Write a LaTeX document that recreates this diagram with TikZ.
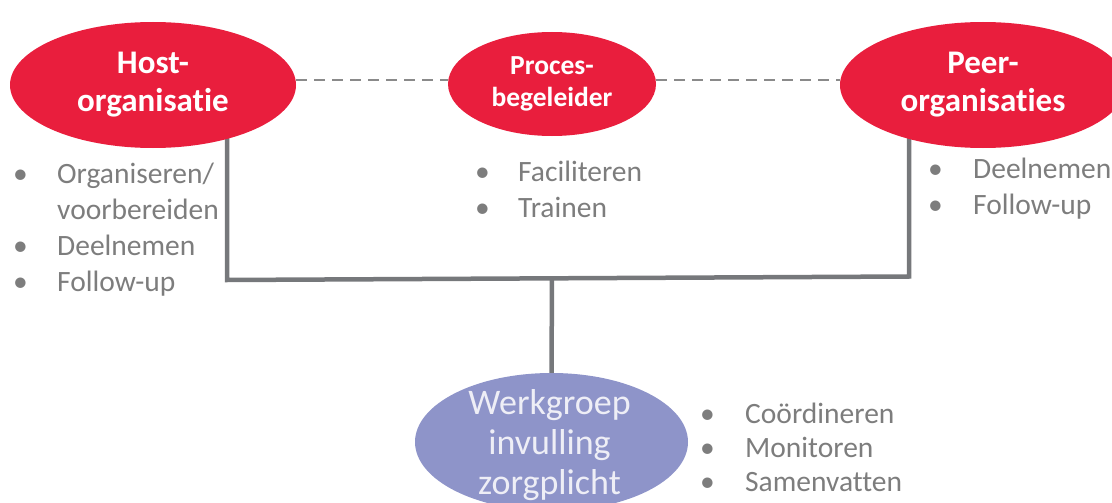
\documentclass[tikz,border=0pt]{standalone}
\usepackage{fontspec}
\setmainfont{Carlito}[Ligatures={NoCommon}]
\usetikzlibrary{shapes.geometric,backgrounds,calc}
\definecolor{redfill}{HTML}{E91E3D}
\definecolor{purplefill}{HTML}{8E94C9}
\definecolor{conngray}{HTML}{76787B}
\definecolor{dashgray}{HTML}{8A8A8A}
\definecolor{textgray}{HTML}{7D7D7D}
\definecolor{lighttext}{HTML}{EEEEF6}
\begin{document}
\begin{tikzpicture}[x=1pt,y=-1pt,
  role/.style={ellipse, fill=redfill, text=white, align=center, inner sep=0pt},
  bigrole/.style={role, minimum width=286pt, minimum height=126pt, font=\fontsize{33}{38}\selectfont\bfseries},
  smallrole/.style={role, minimum width=208pt, minimum height=104pt, font=\fontsize{27.5}{32}\selectfont\bfseries},
  werkbox/.style={ellipse, fill=purplefill, inner sep=0pt, minimum width=273pt, minimum height=138pt},
  werktext/.style={text=lighttext, align=center, inner sep=0pt, font=\fontsize{36}{40}\selectfont},
  blist/.style={anchor=base west, inner sep=0pt, text=textgray, font=\fontsize{29.5}{36}\selectfont},
  conn/.style={draw=conngray, line width=4.5pt},
  dashline/.style={draw=dashgray, line width=1.6pt, dash pattern=on 11pt off 7pt}
]
\useasboundingbox (0,0) rectangle (1112,503);

\node[bigrole] (Host) at (153,85) {Host-\\organisat\kern0pt ie};
\node[smallrole] (Proces) at (552,84) {Proces-\\begeleider};
\node[bigrole] (Peer) at (983,85) {Peer-\\organisat\kern0pt ies};
\node[werkbox] (Werk) at (551.5,442) {};
\node[werktext] (WerkLabel) at ($(Werk.center)+(-2,3)$) {Werkgroep\\invulling\\zorgplicht};

\coordinate (hostdrop) at (227,280);
\coordinate (peerdrop) at (909,276.5);
\coordinate (tee) at (552,278);

\begin{scope}[on background layer]
  \draw[conn] (Host.center -| hostdrop) -- (hostdrop) -- (peerdrop) -- (Peer.center -| peerdrop);
  \draw[conn] (tee) -- (Werk.north);
  \draw[dashline] ($(Host.east)+(0,-5)$) -- ($(Proces.west)+(0,-4)$);
  \draw[dashline] ($(Proces.east)+(0,-4)$) -- ($(Peer.west)+(0,-5)$);
\end{scope}

\node[blist] (hostlist) at (13,183) {\begin{tabular}[t]{@{}l@{}l@{}}
\makebox[44pt][l]{\textbullet} & Organiseren/\\
 & voorbereiden\\
\makebox[44pt][l]{\textbullet} & Deelnemen\\
\makebox[44pt][l]{\textbullet} & Follow-up
\end{tabular}};

\node[blist] (proceslist) at (475,181) {\begin{tabular}[t]{@{}l@{}l@{}}
\makebox[43pt][l]{\textbullet} & Faciliteren\\
\makebox[43pt][l]{\textbullet} & Trainen
\end{tabular}};

\node[blist] (peerlist) at (928,178) {\begin{tabular}[t]{@{}l@{}l@{}}
\makebox[45pt][l]{\textbullet} & Deelnemen\\
\makebox[45pt][l]{\textbullet} & Follow-up
\end{tabular}};

\node[blist, font=\fontsize{29.5}{34}\selectfont] (werklist) at (700,423) {\begin{tabular}[t]{@{}l@{}l@{}}
\makebox[45pt][l]{\textbullet} & Coördineren\\
\makebox[45pt][l]{\textbullet} & Monitoren\\
\makebox[45pt][l]{\textbullet} & Samenvatten
\end{tabular}};
\end{tikzpicture}
\end{document}
